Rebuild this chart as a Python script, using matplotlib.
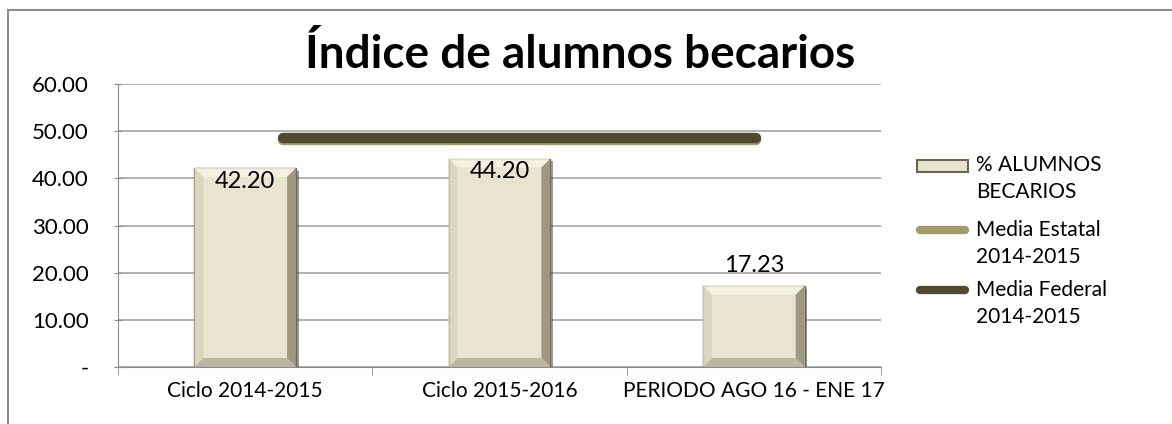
import matplotlib.pyplot as plt
import matplotlib.patheffects as pe
from matplotlib.lines import Line2D
from matplotlib.patches import Rectangle, Polygon
from matplotlib.transforms import IdentityTransform
import numpy as np

categories = ['Ciclo 2014-2015', 'Ciclo 2015-2016', 'PERIODO AGO 16 - ENE 17']
becarios = [42.20, 44.20, 17.23]
media_estatal = [48.2, 48.2, 48.2]
media_federal = [48.6, 48.6, 48.6]
yticks = [0, 10, 20, 30, 40, 50, 60]
ytick_labels = ['-', '10.00', '20.00', '30.00', '40.00', '50.00', '60.00']
label_inside = [True, True, False]
legend_labels = [('% ALUMNOS', 'BECARIOS'), ('Media Estatal', '2014-2015'), ('Media Federal', '2014-2015')]

plt.rcParams['font.family'] = ['Lato', 'DejaVu Sans']

W, H = 1172, 424
fig = plt.figure(figsize=(W / 100, H / 100), dpi=100)
ax = fig.add_axes([118 / W, 1 - 367 / H, 763 / W, 283 / H])

bar_face = '#e9e4cf'
bar_edge = '#6a6650'
c_estatal = '#a39a6a'
c_federal = '#4f4a30'

x = np.arange(len(categories))
bars = ax.bar(x, becarios, width=0.4, color=bar_face, edgecolor=bar_edge,
              linewidth=1.0, zorder=3,
              path_effects=[pe.SimplePatchShadow(offset=(2, -2), shadow_rgbFace='#3c3a2c', alpha=0.5),
                            pe.Normal()])

ax.set_ylim(0, 60)
ax.set_xlim(-0.5, 2.5)

# bevel look on the bars (faces built from each bar's own box, in pixels)
bev = 9
for b in bars:
    (x0, y0), (x1, y1) = ax.transData.transform([(b.get_x(), 0), (b.get_x() + b.get_width(), b.get_height())])
    faces = [
        ([(x0, y1), (x1, y1), (x1 - bev, y1 - bev), (x0 + bev, y1 - bev)], '#f6f3e6'),
        ([(x0, y0), (x0, y1), (x0 + bev, y1 - bev), (x0 + bev, y0 + bev)], '#d9d4bd'),
        ([(x1, y0), (x1, y1), (x1 - bev, y1 - bev), (x1 - bev, y0 + bev)], '#8f8b74'),
        ([(x0, y0), (x1, y0), (x1 - bev, y0 + bev), (x0 + bev, y0 + bev)], '#b3ae96'),
    ]
    for pts, col in faces:
        ax.add_patch(Polygon(pts, closed=True, facecolor=col, edgecolor='none',
                             transform=IdentityTransform(), zorder=3.5, alpha=0.85))

# line series sit slightly shifted, as in the original sheet
xl = x * 0.93 + 0.15
ax.plot(xl, media_estatal, color=c_estatal, linewidth=7.5, solid_capstyle='round', zorder=4)
ax.plot(xl, media_federal, color=c_federal, linewidth=7.5, solid_capstyle='round', zorder=5)

for xi, v, inside in zip(x, becarios, label_inside):
    if inside:
        ax.text(xi, v - 0.6, f'{v:.2f}', ha='center', va='top', fontsize=17, zorder=6)
    else:
        ax.text(xi, v + 2.0, f'{v:.2f}', ha='center', va='bottom', fontsize=17, zorder=6)

ax.set_yticks(yticks)
ax.set_yticklabels(ytick_labels, fontsize=16)
ax.set_xticks(x)
ax.set_xticklabels(categories, fontsize=15)
ax.tick_params(axis='x', length=0, pad=10)
ax.set_xticks([-0.5, 0.5, 1.5, 2.5], minor=True)
ax.tick_params(axis='x', which='minor', length=6, color='#8c8c8c', direction='out')
ax.tick_params(axis='y', length=6, color='#8c8c8c', direction='inout', pad=18)
ax.yaxis.grid(True, color='#a6a6a6', linewidth=1.2, zorder=0)
ax.set_axisbelow(True)
for s in ['top', 'right']:
    ax.spines[s].set_visible(False)
ax.spines['left'].set_color('#8c8c8c')
ax.spines['bottom'].set_color('#8c8c8c')

fig.text(580 / W, 1 - 54 / H, 'Índice de alumnos becarios', ha='center', va='center',
         fontsize=33, fontweight='bold')

# legend, drawn by hand so the keys line up with the first text line
key_x0, key_x1, text_x = 917 / W, 968 / W, 976 / W
entry_y = [165, 230, 290]
for i, (y, (l1, l2)) in enumerate(zip(entry_y, legend_labels)):
    yf = 1 - y / H
    if i == 0:
        fig.add_artist(Rectangle((key_x0, 1 - 172 / H), key_x1 - key_x0, 12 / H,
                                 facecolor=bar_face, edgecolor=bar_edge, linewidth=1.5,
                                 transform=fig.transFigure))
    else:
        col = c_estatal if i == 1 else c_federal
        fig.add_artist(Line2D([key_x0 + 3 / W, key_x1 - 3 / W], [yf, yf], color=col,
                              linewidth=6, solid_capstyle='round'))
    fig.text(text_x, yf, l1, ha='left', va='center', fontsize=15)
    fig.text(text_x, yf - 27 / H, l2, ha='left', va='center', fontsize=15)

# chart frame (only top and left edges visible)
fig.add_artist(Line2D([8 / W, 1], [1 - 10 / H, 1 - 10 / H], color='#8c8c8c', linewidth=1.5))
fig.add_artist(Line2D([8 / W, 8 / W], [0, 1 - 10 / H], color='#8c8c8c', linewidth=1.5))

fig.savefig('out.png', dpi=100)
